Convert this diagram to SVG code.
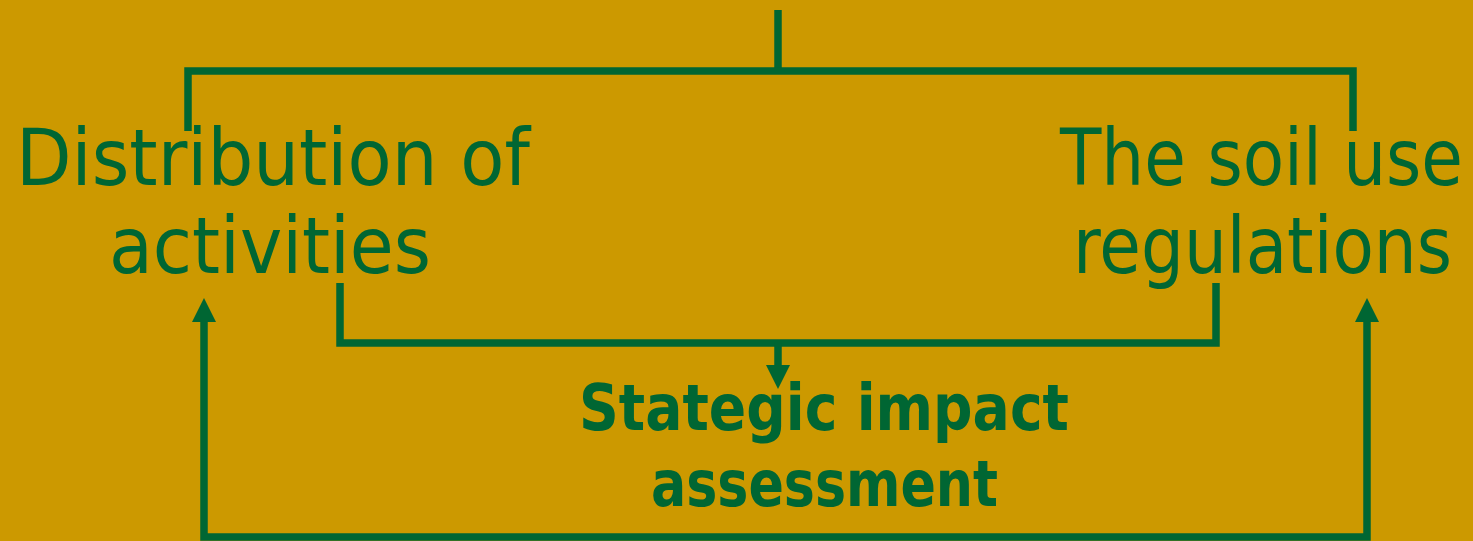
<svg xmlns="http://www.w3.org/2000/svg" width="1473" height="541" viewBox="0 0 1473 541">
  <style>
    .bg { fill: #CC9900; }
    .ln { fill: none; stroke: #006633; stroke-width: 7.5; stroke-linejoin: miter; stroke-linecap: butt; }
    .lbl { fill: #006633; font-family: "DejaVu Sans", "Noto Sans", sans-serif; font-size: 78px; }
    .bold { fill: #006633; font-family: "DejaVu Sans", "Noto Sans", sans-serif; font-size: 64px; font-weight: bold; }
    .end { text-anchor: end; }
  </style>
  <defs>
    <marker id="arrow" markerUnits="userSpaceOnUse" markerWidth="24" markerHeight="24" refX="0" refY="12" orient="auto-start-reverse" viewBox="0 0 24 24">
      <path d="M0,0 L24,12 L0,24 z" fill="#006633"/>
    </marker>
  </defs>
  <rect class="bg" x="0" y="0" width="1473" height="541"/>
  <g id="connectors">
    <line class="ln" x1="778" y1="10" x2="778" y2="71"/>
    <polyline class="ln" points="188,131 188,71 1353,71 1353,131"/>
    <polyline class="ln" points="340,283 340,343 1216,343 1216,283"/>
    <line class="ln" x1="778" y1="343" x2="778" y2="365" marker-end="url(#arrow)"/>
    <path class="ln" d="M204,322 V537 H1367 V322" marker-start="url(#arrow)" marker-end="url(#arrow)"/>
  </g>
  <g id="node-distribution">
    <text class="lbl" x="16" y="185" textLength="514" lengthAdjust="spacingAndGlyphs">Distribution of</text>
    <text class="lbl" x="109" y="273" textLength="322" lengthAdjust="spacingAndGlyphs">activities</text>
  </g>
  <g id="node-soil">
    <text class="lbl end" x="1463" y="185" textLength="403" lengthAdjust="spacingAndGlyphs">The soil use</text>
    <text class="lbl end" x="1452" y="273" textLength="379" lengthAdjust="spacingAndGlyphs">regulations</text>
  </g>
  <g id="node-sia">
    <text class="bold" x="579" y="430" textLength="490" lengthAdjust="spacingAndGlyphs">Stategic impact</text>
    <text class="bold" x="651" y="506" textLength="347" lengthAdjust="spacingAndGlyphs">assessment</text>
  </g>
</svg>
